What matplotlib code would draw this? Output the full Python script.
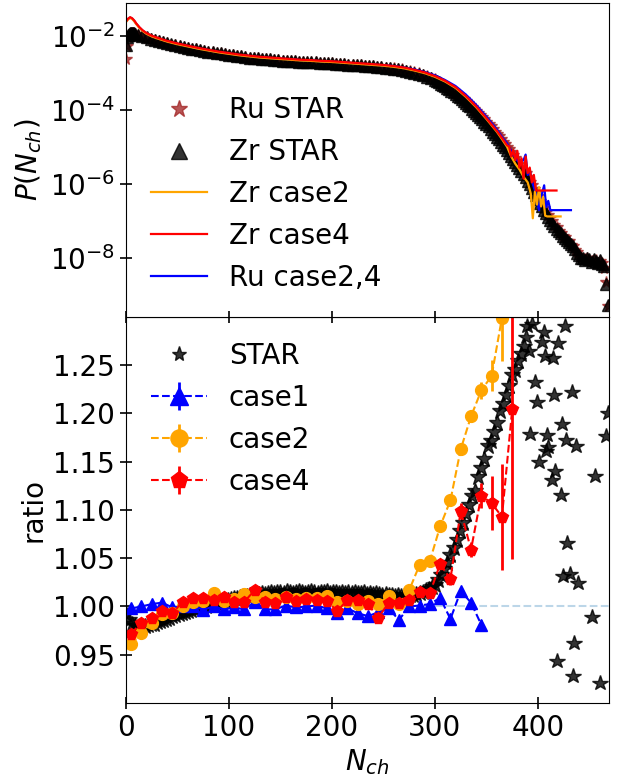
import matplotlib
matplotlib.use("Agg")
import matplotlib.pyplot as plt
from matplotlib.ticker import NullLocator, FixedLocator, FormatStrFormatter

# ------------------------------------------------------------------
# Upper panel: multiplicity distributions P(N_ch), stored as log10(P)
# ------------------------------------------------------------------
star_n = (list(range(0, 10)) + list(range(12, 301, 4)) + list(range(302, 469, 2)))

zr_star_log10p = [
    -2.25, -2.02, -1.97, -1.94, -1.93, -1.92, -1.92, -1.92, -1.93, -1.94,
    -1.96, -2.00, -2.03, -2.07, -2.10, -2.13, -2.16, -2.19, -2.22, -2.25,
    -2.27, -2.30, -2.32, -2.34, -2.36, -2.38, -2.40, -2.42, -2.44, -2.46,
    -2.47, -2.49, -2.51, -2.52, -2.54, -2.55, -2.57, -2.58, -2.59, -2.60,
    -2.61, -2.62, -2.63, -2.64, -2.65, -2.66, -2.67, -2.67, -2.68, -2.69,
    -2.69, -2.70, -2.71, -2.71, -2.72, -2.73, -2.73, -2.74, -2.75, -2.75,
    -2.76, -2.77, -2.78, -2.78, -2.79, -2.80, -2.81, -2.82, -2.83, -2.84,
    -2.85, -2.86, -2.88, -2.89, -2.91, -2.94, -2.96, -2.99, -3.02, -3.06,
    -3.10, -3.14, -3.18,
    -3.22, -3.25, -3.29, -3.32, -3.36, -3.40, -3.44, -3.48, -3.52, -3.56,
    -3.61, -3.65, -3.70, -3.75, -3.80, -3.85, -3.90, -3.96, -4.01, -4.07,
    -4.13, -4.19, -4.25, -4.31, -4.38, -4.44, -4.51, -4.58, -4.65, -4.72,
    -4.79, -4.86, -4.93, -5.00, -5.08, -5.15, -5.23, -5.31, -5.39, -5.47,
    -5.55, -5.64, -5.73, -5.81, -5.90, -6.00, -6.10, -6.20, -6.30, -6.40,
    -6.50, -6.60, -6.69, -6.79, -6.88, -6.96, -7.04, -7.12, -7.20, -7.27,
    -7.33, -7.40, -7.45, -7.51, -7.55, -7.62, -7.68, -7.76, -7.85, -7.92,
    -7.98, -8.00, -8.05, -7.98, -8.03, -8.10, -8.02, -8.06, -8.12, -8.05,
    -8.15, -8.20, -8.70, -9.25,
]

ru_star_log10p = [
    -2.62, -2.28, -2.02, -1.96, -1.94, -1.93, -1.93, -1.93, -1.94, -1.95,
    -1.97, -2.01, -2.04, -2.08, -2.11, -2.14, -2.17, -2.20, -2.23, -2.25,
    -2.27, -2.30, -2.32, -2.34, -2.36, -2.38, -2.40, -2.42, -2.44, -2.46,
    -2.47, -2.49, -2.51, -2.52, -2.54, -2.55, -2.57, -2.58, -2.59, -2.60,
    -2.61, -2.62, -2.63, -2.64, -2.65, -2.66, -2.67, -2.67, -2.68, -2.69,
    -2.69, -2.70, -2.71, -2.71, -2.72, -2.73, -2.73, -2.74, -2.75, -2.75,
    -2.76, -2.77, -2.78, -2.78, -2.79, -2.80, -2.81, -2.82, -2.83, -2.84,
    -2.85, -2.86, -2.87, -2.88, -2.90, -2.93, -2.95, -2.98, -3.01, -3.05,
    -3.09, -3.13, -3.17,
    -3.21, -3.24, -3.27, -3.30, -3.34, -3.38, -3.41, -3.45, -3.49, -3.53,
    -3.58, -3.62, -3.66, -3.71, -3.76, -3.81, -3.86, -3.91, -3.96, -4.02,
    -4.07, -4.13, -4.19, -4.25, -4.31, -4.37, -4.44, -4.51, -4.58, -4.64,
    -4.71, -4.78, -4.85, -4.92, -4.99, -5.06, -5.14, -5.22, -5.30, -5.38,
    -5.45, -5.54, -5.63, -5.71, -5.80, -5.93, -6.02, -6.12, -6.22, -6.33,
    -6.44, -6.52, -6.63, -6.74, -6.82, -6.92, -7.00, -7.10, -7.16, -7.25,
    -7.31, -7.39, -7.43, -7.52, -7.53, -7.64, -7.66, -7.78, -7.84, -7.93,
    -7.96, -8.02, -8.03, -8.00, -8.05, -8.08, -8.04, -8.04, -8.14, -8.06,
    -8.13, -8.25, -8.65, -9.30,
]

model_base_n = [0, 2, 4, 6, 8, 10, 13, 16, 20, 25, 30, 40, 50, 60, 70, 80, 90,
                100, 110, 120, 130, 140, 150, 160, 170, 180, 190, 200, 210, 220,
                230, 240, 250, 260, 270, 280, 290, 300, 310, 320, 330, 340, 350,
                360]

zr_case4_n = model_base_n + [365, 370, 372, 374, 376, 378, 380, 382, 384, 386,
                             388, 390, 392, 394, 396, 398, 418]
zr_case4_log10p = [
    -1.60, -1.53, -1.49, -1.52, -1.58, -1.66, -1.76, -1.84, -1.92, -1.99, -2.04,
    -2.13, -2.20, -2.26, -2.32, -2.37, -2.42, -2.46, -2.50, -2.53, -2.56, -2.58,
    -2.60, -2.62, -2.64, -2.65, -2.67, -2.68, -2.70, -2.72, -2.74, -2.76, -2.78,
    -2.81, -2.85, -2.91, -2.98, -3.08, -3.21, -3.38, -3.62, -3.90, -4.22, -4.56,
    -4.75, -4.95, -4.98, -5.25, -5.08, -5.35, -5.10, -5.55, -5.30, -5.85, -5.25,
    -5.70, -5.55, -5.95, -5.75, -6.17, -6.17,
]

zr_case2_n = model_base_n + [365, 370, 374, 378, 382, 386, 390, 393, 395, 397,
                             399, 401, 403, 405, 407, 409, 422]
zr_case2_log10p = [
    -1.62, -1.55, -1.51, -1.54, -1.60, -1.68, -1.78, -1.86, -1.94, -2.01, -2.06,
    -2.15, -2.22, -2.28, -2.34, -2.39, -2.44, -2.48, -2.52, -2.55, -2.58, -2.60,
    -2.62, -2.64, -2.66, -2.67, -2.69, -2.70, -2.72, -2.74, -2.76, -2.78, -2.80,
    -2.83, -2.87, -2.93, -3.00, -3.10, -3.23, -3.40, -3.64, -3.92, -4.24, -4.58,
    -4.78, -4.99, -5.25, -5.45, -5.60, -5.80, -5.95, -6.25, -6.92, -6.20, -6.55,
    -6.08, -6.60, -6.35, -6.85, -6.87, -6.87,
]

ru_case24_n = model_base_n + [365, 370, 374, 378, 382, 386, 388, 390, 392, 395,
                              398, 401, 403, 406, 408, 410, 412, 432]
ru_case24_log10p = [
    -1.61, -1.54, -1.50, -1.53, -1.59, -1.67, -1.77, -1.85, -1.93, -2.00, -2.05,
    -2.14, -2.21, -2.27, -2.33, -2.38, -2.43, -2.47, -2.51, -2.54, -2.57, -2.59,
    -2.61, -2.63, -2.65, -2.66, -2.68, -2.69, -2.71, -2.73, -2.75, -2.77, -2.79,
    -2.81, -2.85, -2.90, -2.97, -3.06, -3.19, -3.35, -3.58, -3.86, -4.18, -4.52,
    -4.72, -4.90, -5.10, -5.30, -5.42, -5.35, -5.20, -5.75, -5.62, -6.00, -6.25,
    -6.70, -6.35, -6.03, -6.62, -6.45, -6.70, -6.70,
]

# ------------------------------------------------------------------
# Lower panel: Ru/Zr ratios
# ------------------------------------------------------------------
star_ratio_n = list(range(0, 385, 3))
star_ratio = [
    0.992, 0.986, 0.982, 0.980, 0.979, 0.980, 0.980, 0.981, 0.982, 0.982,
    0.984, 0.985, 0.986, 0.987, 0.988, 0.990, 0.991, 0.992, 0.993, 0.994,
    0.995, 0.996, 0.997, 0.998, 0.999, 1.000, 1.001, 1.002, 1.003, 1.004,
    1.005, 1.006, 1.006, 1.007, 1.008, 1.009, 1.009, 1.010, 1.011, 1.011,
    1.012, 1.012, 1.013, 1.013, 1.014, 1.013, 1.014, 1.015, 1.014, 1.015,
    1.015, 1.014, 1.016, 1.015, 1.014, 1.015, 1.016, 1.015, 1.014, 1.015,
    1.016, 1.015, 1.014, 1.015, 1.015, 1.016, 1.014, 1.015, 1.015, 1.014,
    1.015, 1.014, 1.015, 1.014, 1.015, 1.014, 1.014, 1.015, 1.013, 1.014,
    1.013, 1.014, 1.013, 1.012, 1.013, 1.012, 1.012, 1.011, 1.012, 1.011,
    1.011, 1.011, 1.012, 1.012, 1.013, 1.014, 1.015, 1.017, 1.018, 1.020,
    1.022, 1.027, 1.033, 1.039, 1.045, 1.053, 1.061, 1.069, 1.078, 1.087,
    1.096, 1.105, 1.114, 1.120, 1.134, 1.143, 1.153, 1.166, 1.172, 1.181,
    1.190, 1.203, 1.210, 1.219, 1.228, 1.240, 1.245, 1.254, 1.262,
]

star_tail_n = [386, 388, 389, 391, 392, 394, 397, 399, 401, 404, 406, 407, 408,
               409, 410, 414, 415, 416, 417, 418, 419, 422, 423, 424, 426, 427,
               428, 431, 433, 434, 435, 437, 439, 452, 455, 460, 466, 468]
star_tail_ratio = [1.270, 1.279, 1.291, 1.265, 1.179, 1.293, 1.233, 1.212,
                   1.150, 1.274, 1.284, 1.260, 1.161, 1.178, 1.165, 1.131,
                   1.257, 1.219, 1.140, 0.944, 1.273, 1.116, 1.189, 1.032,
                   1.291, 1.173, 1.066, 1.034, 1.222, 0.928, 0.962, 1.166,
                   1.024, 0.989, 1.135, 0.921, 1.177, 1.200]

case1_n = list(range(5, 346, 10))
case1_ratio = [0.998, 1.000, 1.0025, 1.004, 0.999, 1.000, 1.001, 0.9966, 1.000,
               0.997, 0.999, 0.997, 1.005, 0.997, 0.997, 1.001, 0.999, 1.000,
               1.001, 0.998, 0.993, 0.998, 0.993, 0.990, 0.994, 0.998, 0.986,
               1.000, 1.001, 1.0025, 1.009, 0.987, 1.016, 1.004, 0.981]
case1_err = [0.002] * 30 + [0.003, 0.003, 0.004, 0.004, 0.005]

case2_n = list(range(5, 366, 10))
case2_ratio = [0.961, 0.973, 0.983, 0.992, 0.993, 1.001, 1.005, 1.006, 1.0136,
               1.006, 1.008, 1.013, 1.010, 1.010, 1.008, 1.010, 1.0077, 1.009,
               1.0087, 1.011, 1.005, 1.006, 1.0025, 1.006, 1.0025, 1.011, 1.003,
               1.017, 1.043, 1.047, 1.083, 1.110, 1.163, 1.197, 1.224, 1.239,
               1.299]
case2_err = [0.002] * 30 + [0.004, 0.004, 0.005, 0.006, 0.009, 0.016, 0.045]

case4_n = list(range(5, 376, 10))
case4_ratio = [0.972, 0.983, 0.9885, 0.9955, 0.993, 1.005, 1.009, 1.009, 1.007,
               1.010, 1.005, 1.005, 1.017, 1.005, 1.004, 1.010, 1.006, 1.008,
               1.007, 1.006, 0.995, 1.007, 1.007, 1.0025, 0.9885, 1.004, 1.004,
               1.007, 1.0146, 1.0136, 1.044, 1.0285, 1.099, 1.059, 1.115, 1.107,
               1.093, 1.2045]
case4_err = [0.002] * 30 + [0.005, 0.006, 0.008, 0.008, 0.013, 0.028, 0.055,
                            0.155]

x_ticks = [0, 100, 200, 300, 400]
ratio_ticks = [0.95, 1.00, 1.05, 1.10, 1.15, 1.20, 1.25]
p_ticks = [1e-2, 1e-4, 1e-6, 1e-8]

# ------------------------------------------------------------------
plt.rcParams["font.family"] = ["DejaVu Sans"]
plt.rcParams["font.size"] = 20

fig = plt.figure(figsize=(6.18, 7.76), dpi=100)
ax_bot = fig.add_axes([0.2039, 0.0941, 0.7816, 0.4974])
ax_top = fig.add_axes([0.2039, 0.5915, 0.7816, 0.4046])


def pw(vals):
    return [10.0 ** v for v in vals]


# upper panel
ax_top.plot(star_n, pw(ru_star_log10p), ls="none", marker="*", ms=8.5,
            color="brown", alpha=0.8, label="Ru STAR")
ax_top.plot(star_n, pw(zr_star_log10p), ls="none", marker="^", ms=8,
            color="k", alpha=0.8, label="Zr STAR")
ax_top.plot(ru_case24_n, pw(ru_case24_log10p), color="blue", lw=1.6,
            label="Ru case2,4")
ax_top.plot(zr_case2_n, pw(zr_case2_log10p), color="orange", lw=1.6,
            label="Zr case2")
ax_top.plot(zr_case4_n, pw(zr_case4_log10p), color="red", lw=1.6,
            label="Zr case4")
ax_top.set_yscale("log")
ax_top.set_ylim(2.6e-10, 7.8e-2)
ax_top.set_xlim(0, 469)
ax_top.yaxis.set_major_locator(FixedLocator(p_ticks))
ax_top.yaxis.set_minor_locator(NullLocator())
ax_top.xaxis.set_major_locator(FixedLocator(x_ticks))
ax_top.tick_params(labelbottom=False)
ax_top.set_ylabel(r"$P(N_{ch})$")
h, lab = ax_top.get_legend_handles_labels()
order = ["Ru STAR", "Zr STAR", "Zr case2", "Zr case4", "Ru case2,4"]
hh = [h[lab.index(o)] for o in order]
ax_top.legend(hh, order, loc="lower left", frameon=False, markerscale=1.5,
              fontsize=20)

# lower panel
ax_bot.axhline(1.0, color="#bcd6e8", ls="--", lw=1.5, zorder=0)
ax_bot.plot(star_ratio_n, star_ratio, ls="none", marker="*", ms=12,
            color="k", alpha=0.8)
ax_bot.plot(star_tail_n, star_tail_ratio, ls="none", marker="*", ms=11.5,
            color="k", alpha=0.8)
ax_bot.plot([], [], ls="none", marker="*", ms=7.5, color="k", alpha=0.8,
            label="STAR")
ax_bot.errorbar(case1_n, case1_ratio, yerr=case1_err, fmt="--^", color="blue",
                ms=8.5, lw=1.5, elinewidth=2, label="case1")
ax_bot.errorbar(case2_n, case2_ratio, yerr=case2_err, fmt="--o", color="orange",
                ms=8.5, lw=1.5, elinewidth=2, label="case2")
ax_bot.errorbar(case4_n, case4_ratio, yerr=case4_err, fmt="--p", color="red",
                ms=8.5, lw=1.5, elinewidth=2, label="case4")
ax_bot.set_xlim(0, 469)
ax_bot.set_ylim(0.9, 1.3)
ax_bot.yaxis.set_major_locator(FixedLocator(ratio_ticks))
ax_bot.yaxis.set_major_formatter(FormatStrFormatter("%.2f"))
ax_bot.xaxis.set_major_locator(FixedLocator(x_ticks))
ax_bot.set_xlabel(r"$N_{ch}$")
ax_bot.set_ylabel("ratio")
ax_bot.legend(loc="upper left", frameon=False, markerscale=1.45, fontsize=20)

for ax in (ax_top, ax_bot):
    ax.tick_params(direction="inout", length=9, width=1.2, labelsize=20)

fig.savefig("out.png", dpi=100)
